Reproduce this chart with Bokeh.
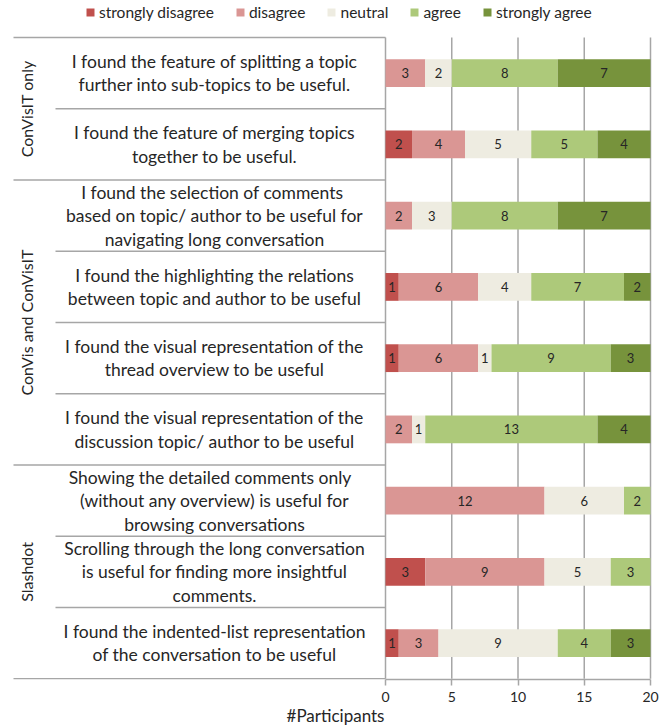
from bokeh.plotting import figure
from bokeh.models import ColumnDataSource, Range1d, FixedTicker
from bokeh.core.properties import value
from bokeh.embed import file_html
from bokeh.resources import INLINE
import math

# ---------------- data ----------------
questions = [
    "I found the feature of splitting a topic\nfurther into sub-topics to be useful.",
    "I found the feature of merging topics\ntogether to be useful.",
    "I found the selection of  comments\nbased on topic/ author to be useful for\nnavigating long conversation",
    "I found the highlighting the relations\nbetween topic and author to be useful",
    "I found the visual representation of the\nthread overview to be useful",
    "I found the visual representation of the\ndiscussion topic/ author to be useful",
    "Showing  the detailed comments  only\n(without any overview) is useful for\nbrowsing conversations",
    "Scrolling through the long conversation\nis useful for finding more insightful\ncomments.",
    "I found the indented-list representation\nof the conversation to be useful",
]
groups = ["ConVisIT only", "ConVis and ConVisIT", "Slashdot"]
group_sizes = [2, 4, 3]

categories = ["strongly disagree", "disagree", "neutral", "agree", "strongly agree"]
strongly_disagree = [0, 2, 0, 1, 1, 0, 0, 3, 1]
disagree = [3, 4, 2, 6, 6, 2, 12, 9, 3]
neutral = [2, 5, 3, 4, 1, 1, 6, 5, 9]
agree = [8, 5, 8, 7, 9, 13, 2, 3, 4]
strongly_agree = [7, 4, 7, 2, 3, 4, 0, 0, 3]
x_ticks = [0, 5, 10, 15, 20]

colors = ["#C0504D", "#DA9694", "#EEECE1", "#ADC97A", "#77933C"]
keys = ["sd", "d", "n", "a", "sa"]
series = [strongly_disagree, disagree, neutral, agree, strongly_agree]

n = len(questions)
row_y = [n - 0.5 - i for i in range(n)]

# ---------------- layout constants ----------------
PX_PER_UNIT = 13.25
ZERO_PX = 385.0
def px_to_x(px):
    return (px - ZERO_PX) / PX_PER_UNIT

TABLE_LEFT = px_to_x(13)
INNER_LEFT = px_to_x(55)
TEXT_X = px_to_x(214)
GROUP_X = px_to_x(26)
GRID_COLOR = "#a6a6a6"
TEXT_COLOR = "#262626"
FONT = "Lato"

p = figure(frame_width=650, frame_height=679,
           x_range=Range1d(px_to_x(10), px_to_x(660)),
           y_range=Range1d(-0.01, 9.52),
           output_backend="svg", toolbar_location=None,
           y_axis_location=None, min_border_left=10, min_border_right=10,
           min_border_top=0, min_border_bottom=0)
p.outline_line_color = None
p.xgrid.visible = False
p.ygrid.visible = False

# vertical grid lines / y axis line
p.segment(x0=x_ticks, y0=[0] * len(x_ticks), x1=x_ticks, y1=[n] * len(x_ticks),
          line_color=GRID_COLOR, line_width=1.5)

# table lines
full_lines = [n]
acc = n
for s in group_sizes:
    acc -= s
    full_lines.append(acc)
inner_lines = [yy for yy in range(1, n) if yy not in full_lines]
p.segment(x0=[TABLE_LEFT] * len(full_lines), y0=full_lines,
          x1=[0] * len(full_lines), y1=full_lines, line_color=GRID_COLOR, line_width=1.5)
p.segment(x0=[INNER_LEFT] * len(inner_lines), y0=inner_lines,
          x1=[0] * len(inner_lines), y1=inner_lines, line_color=GRID_COLOR, line_width=1.5)

# stacked bars
data = dict(y=row_y)
for k, s in zip(keys, series):
    data[k] = s
source = ColumnDataSource(data)
p.hbar_stack(keys, y="y", height=0.39, color=colors, source=source,
             legend_label=categories, line_width=0)

# bar labels
lx, ly, lt = [], [], []
for i in range(n):
    left = 0
    for s in series:
        v = s[i]
        if v > 0:
            lx.append(left + v / 2)
            ly.append(row_y[i])
            lt.append(str(v))
        left += v
p.text(x=lx, y=ly, text=lt, text_align="center", text_baseline="middle",
       text_font=value(FONT), text_font_size="13px", text_color=TEXT_COLOR)

# question texts
p.text(x=[TEXT_X] * n, y=row_y, text=questions, text_align="center",
       text_baseline="middle", text_font=value(FONT), text_font_size="17.5px",
       text_color=TEXT_COLOR, text_line_height=1.12)

# group labels
gy = []
acc = n
for s in group_sizes:
    gy.append(acc - s / 2)
    acc -= s
p.text(x=[GROUP_X] * len(groups), y=gy, text=groups, angle=math.pi / 2,
       text_align="center", text_baseline="middle", text_font=value(FONT),
       text_font_size="16px", text_color=TEXT_COLOR)

# x axis
ax = p.xaxis[0]
ax.ticker = FixedTicker(ticks=x_ticks)
ax.bounds = (0, 20)
ax.axis_label = "#Participants"
ax.axis_label_text_font = FONT
ax.axis_label_text_font_size = "17px"
ax.axis_label_text_font_style = "normal"
ax.axis_label_text_color = TEXT_COLOR
ax.axis_label_standoff = 0
ax.major_label_text_font = FONT
ax.major_label_text_font_size = "14px"
ax.major_label_text_color = TEXT_COLOR
ax.major_label_standoff = 6
ax.axis_line_color = GRID_COLOR
ax.axis_line_width = 1.5
ax.major_tick_line_color = GRID_COLOR
ax.major_tick_line_width = 1.5
ax.major_tick_out = 6
ax.major_tick_in = 0
ax.minor_tick_line_color = None

# legend
lg = p.legend[0]
lg.orientation = "horizontal"
lg.location = (75, 657)
lg.background_fill_alpha = 0
lg.border_line_alpha = 0
lg.padding = 0
lg.margin = 0
lg.spacing = 21
lg.glyph_width = 10
lg.glyph_height = 10
lg.label_standoff = 4
lg.label_height = 20
lg.label_text_font = FONT
lg.label_text_font_size = "15.5px"
lg.label_text_color = TEXT_COLOR

open("out.html", "w").write(file_html(p, INLINE))
